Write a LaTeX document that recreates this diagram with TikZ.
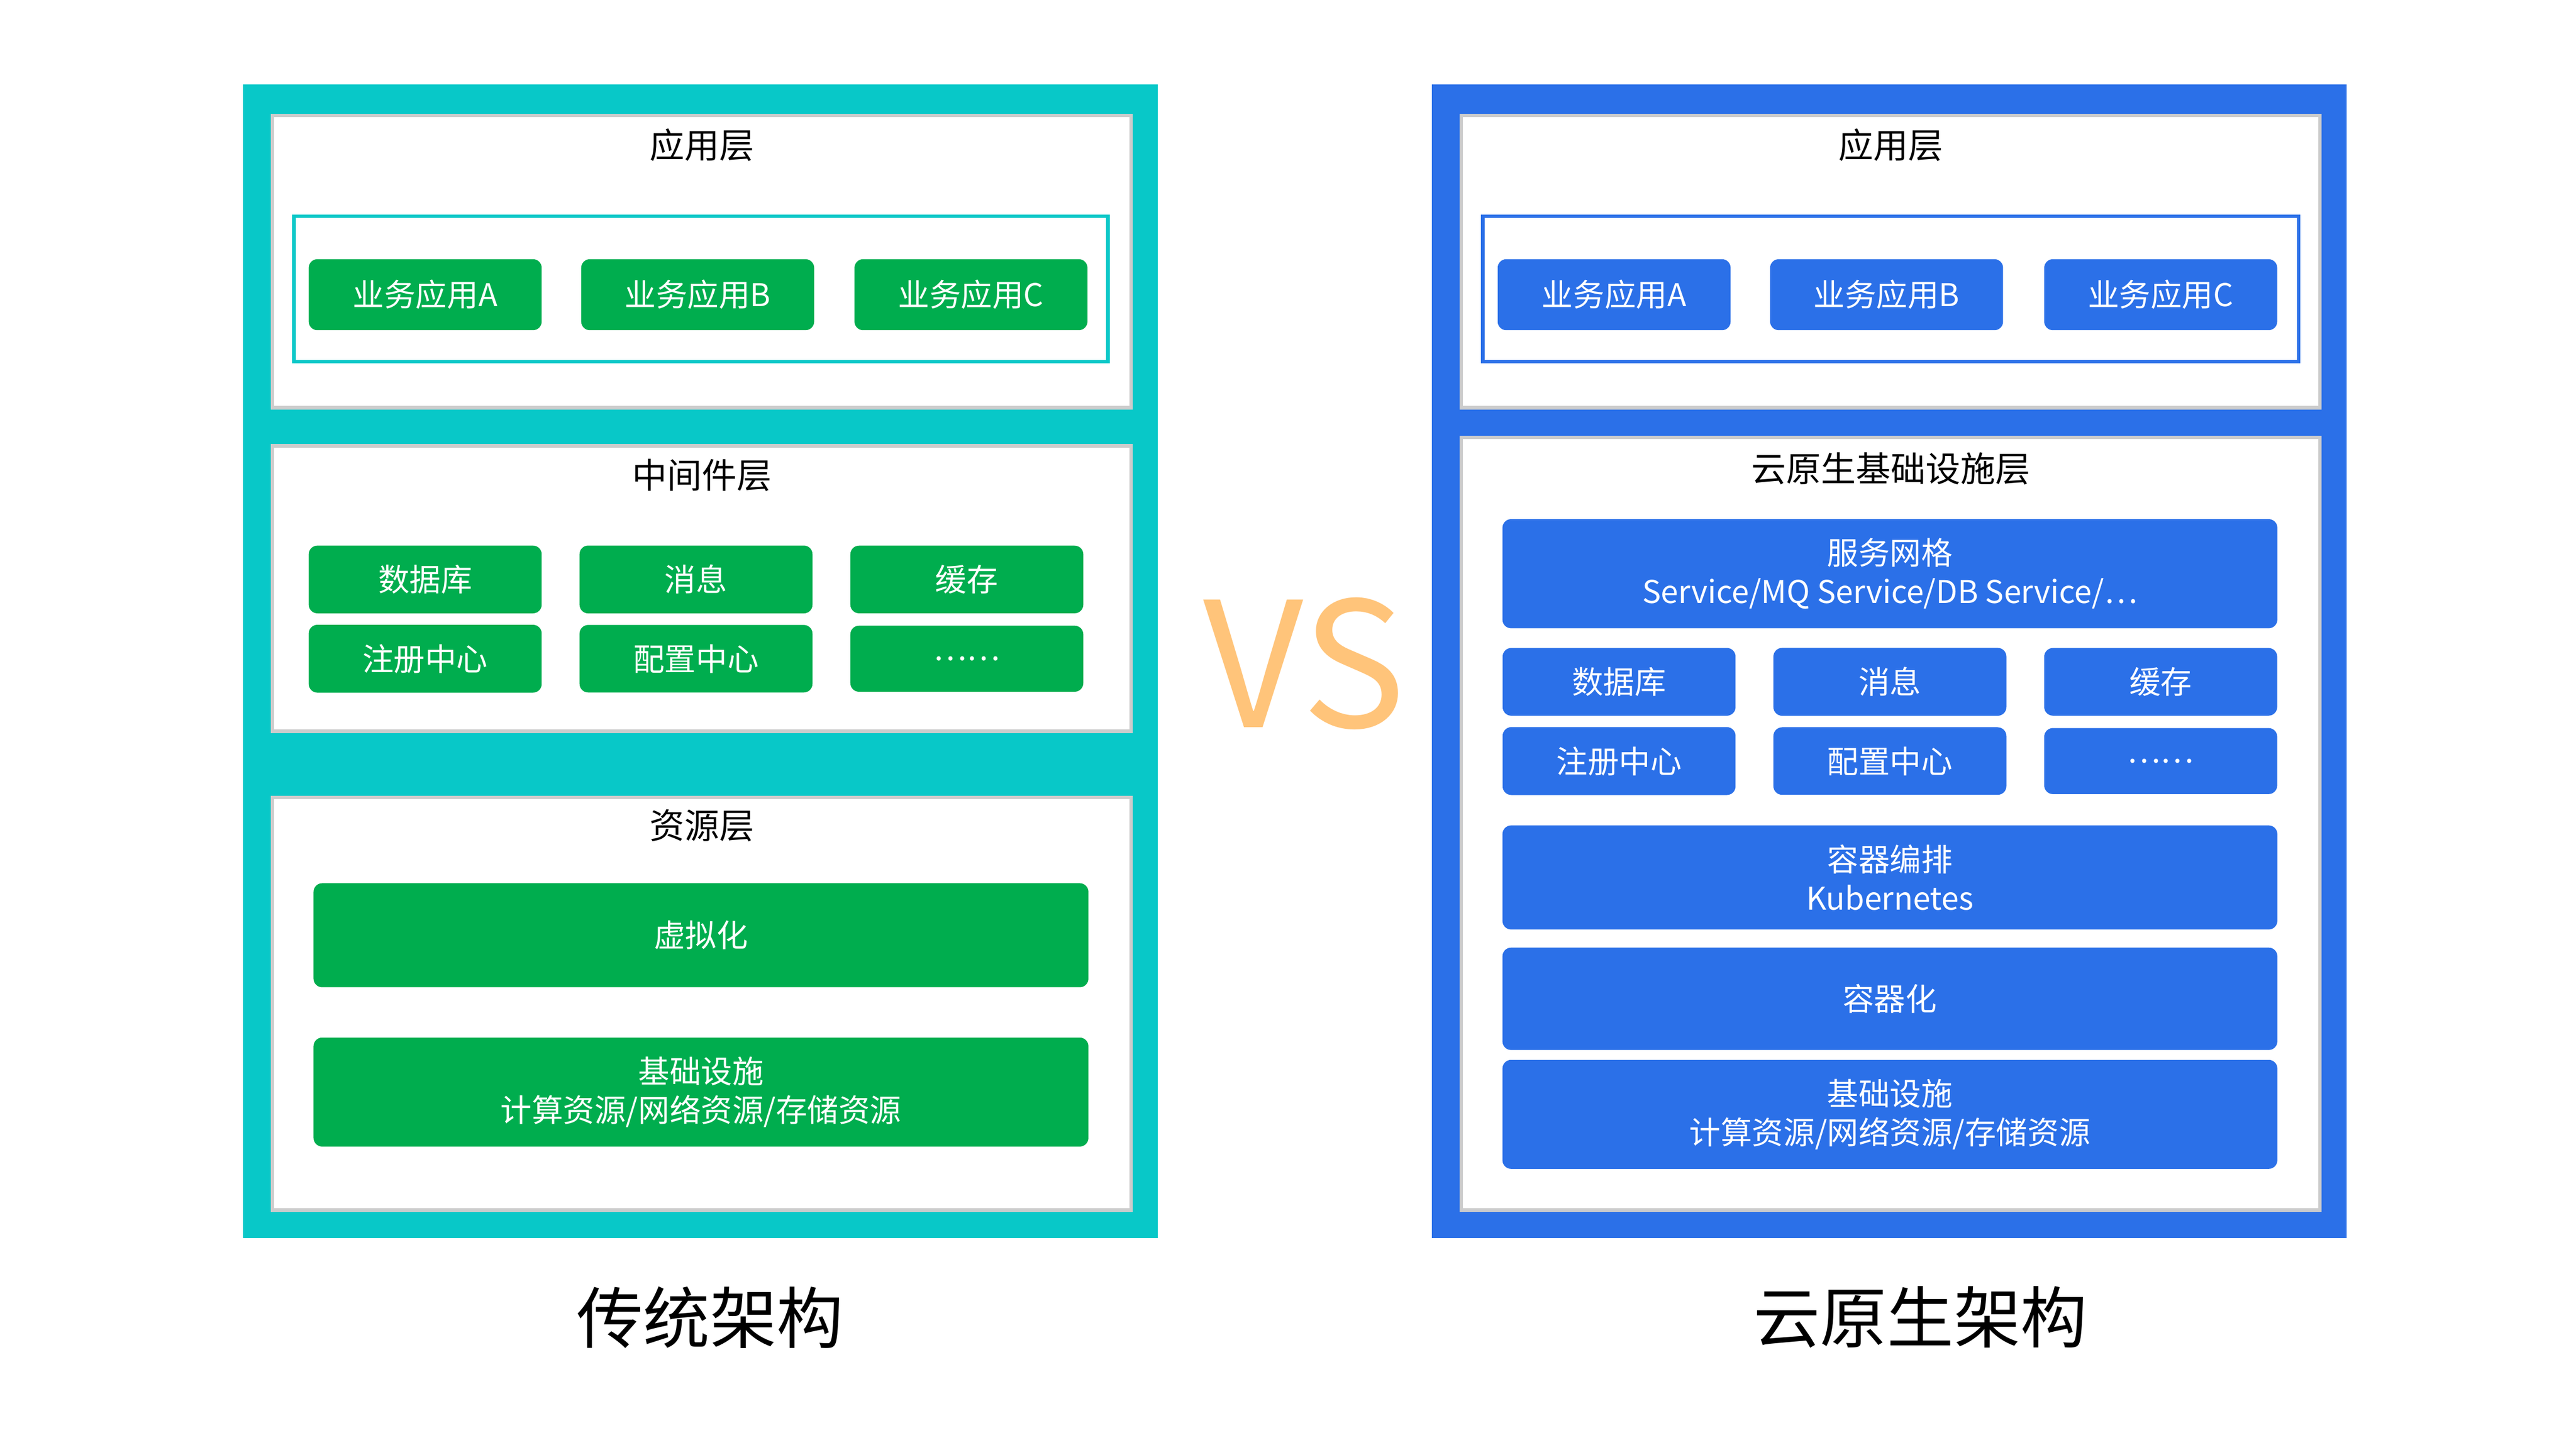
\documentclass[tikz,border=0pt]{standalone}
\usepackage{fontspec}
\setmainfont{Noto Sans CJK SC}
\definecolor{tealc}{HTML}{08C8C8}
\definecolor{greenc}{HTML}{00AD4E}
\definecolor{bluec}{HTML}{2B70E8}
\definecolor{vsc}{HTML}{FFC47A}
\begin{document}
\begin{tikzpicture}[x=0.01cm,y=-0.01cm,
  panel/.style={draw=black!20, line width=0.6pt, fill=white},
  ptitle/.style={font=\fontsize{6}{7}\selectfont},
  gbtn/.style={fill=greenc, rounded corners=1.5pt, text=white, align=center, font=\fontsize{5.4}{6.6}\selectfont},
  bbtn/.style={fill=bluec, rounded corners=1.5pt, text=white, align=center, font=\fontsize{5.4}{6.6}\selectfont},
  big/.style={font=\fontsize{11.5}{13}\selectfont}]
  \useasboundingbox (0,0) rectangle (1560,878);
  % left: traditional
  \fill[tealc] (147,51) rectangle (701,750);
  \draw[panel] (165,70) rectangle (685,247);
  \draw[panel] (165,270) rectangle (685,443);
  \draw[panel] (165,483) rectangle (685,733);
  \node[ptitle] (lapp) at (425,88) {应用层};
  \node[ptitle] (lmid) at (425,288) {中间件层};
  \node[ptitle] (lres) at (425,500) {资源层};
  \draw[tealc, line width=0.6pt] (178,131) rectangle (671,219);
  \node[gbtn, minimum width=1.41cm, minimum height=0.43cm] (la) at (257.5,178.5) {业务应用A};
  \node[gbtn, minimum width=1.41cm, minimum height=0.43cm] (lb) at (422.5,178.5) {业务应用B};
  \node[gbtn, minimum width=1.41cm, minimum height=0.43cm] (lc) at (588,178.5) {业务应用C};
  \node[gbtn, minimum width=1.41cm, minimum height=0.40cm] (ldb) at (257.5,351) {数据库};
  \node[gbtn, minimum width=1.41cm, minimum height=0.40cm] (lmq) at (421.5,351) {消息};
  \node[gbtn, minimum width=1.41cm, minimum height=0.40cm] (lca) at (585.5,351) {缓存};
  \node[gbtn, minimum width=1.41cm, minimum height=0.40cm] (lreg) at (257.5,399) {注册中心};
  \node[gbtn, minimum width=1.41cm, minimum height=0.40cm] (lcfg) at (421.5,399) {配置中心};
  \node[gbtn, minimum width=1.41cm, minimum height=0.40cm] (ldots) at (585.5,399) {……};
  \node[gbtn, minimum width=4.69cm, minimum height=0.63cm] (lvirt) at (424.5,566.5) {虚拟化};
  \node[gbtn, minimum width=4.69cm, minimum height=0.63cm] (linfra) at (424.5,661.5) {基础设施\\计算资源/网络资源/存储资源};
  \node[big] (ltitle) at (430,798) {传统架构};
  % VS
  \node[text=vsc, font=\fontsize{30}{30}\selectfont] (vs) at (790,402) {VS};
  % right: cloud native
  \fill[bluec] (867,51) rectangle (1421,750);
  \draw[panel] (885,70) rectangle (1405,247);
  \draw[panel] (885,265) rectangle (1405,733);
  \node[ptitle] (rapp) at (1145,88) {应用层};
  \node[ptitle] (rcn) at (1145,284) {云原生基础设施层};
  \draw[bluec, line width=0.6pt] (898,131) rectangle (1392,219);
  \node[bbtn, minimum width=1.41cm, minimum height=0.43cm] (ra) at (977.5,178.5) {业务应用A};
  \node[bbtn, minimum width=1.41cm, minimum height=0.43cm] (rb) at (1142.5,178.5) {业务应用B};
  \node[bbtn, minimum width=1.41cm, minimum height=0.43cm] (rc) at (1308.5,178.5) {业务应用C};
  \node[bbtn, minimum width=4.69cm, minimum height=0.55cm] (rmesh) at (1144.5,347.5) {服务网格\\Service/MQ Service/DB Service/\dots};
  \node[bbtn, minimum width=1.41cm, minimum height=0.40cm] (rdb) at (980.5,413) {数据库};
  \node[bbtn, minimum width=1.41cm, minimum height=0.40cm] (rmq) at (1144.5,413) {消息};
  \node[bbtn, minimum width=1.41cm, minimum height=0.40cm] (rca) at (1308.5,413) {缓存};
  \node[bbtn, minimum width=1.41cm, minimum height=0.40cm] (rreg) at (980.5,461) {注册中心};
  \node[bbtn, minimum width=1.41cm, minimum height=0.40cm] (rcfg) at (1144.5,461) {配置中心};
  \node[bbtn, minimum width=1.41cm, minimum height=0.40cm] (rdots) at (1308.5,461) {……};
  \node[bbtn, minimum width=4.69cm, minimum height=0.63cm] (rk8s) at (1144.5,531.5) {容器编排\\Kubernetes};
  \node[bbtn, minimum width=4.69cm, minimum height=0.62cm] (rctr) at (1144.5,605) {容器化};
  \node[bbtn, minimum width=4.69cm, minimum height=0.62cm] (rinfra) at (1144.5,675) {基础设施\\计算资源/网络资源/存储资源};
  \node[big] (rtitle) at (1163,798) {云原生架构};
\end{tikzpicture}
\end{document}
